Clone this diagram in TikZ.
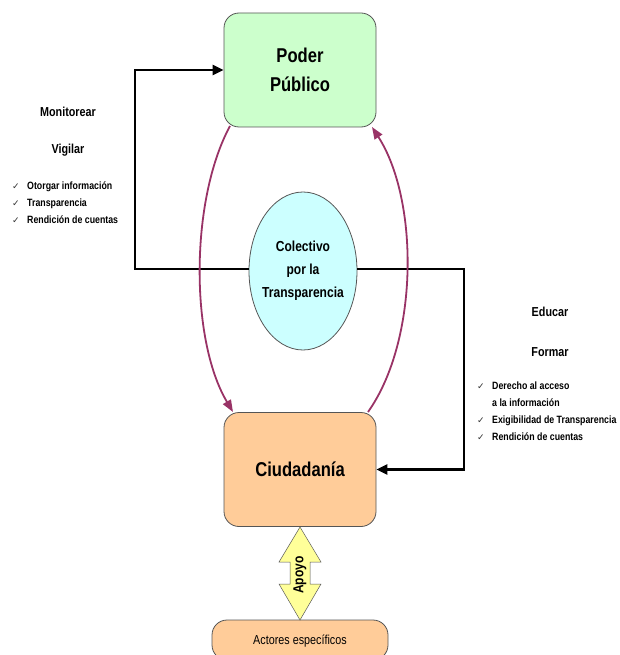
\documentclass[tikz,border=0pt]{standalone}
\usepackage{fontspec}
\setmainfont[FakeStretch=0.83]{Liberation Sans}
\newfontfamily\chk{DejaVu Sans}
\usetikzlibrary{arrows.meta,shapes.geometric}
\definecolor{pgreen}{HTML}{CCFFCC}
\definecolor{ppeach}{HTML}{FFCC99}
\definecolor{pcyan}{HTML}{CCFFFF}
\definecolor{pyellow}{HTML}{FFFF99}
\definecolor{pplum}{HTML}{993366}
\definecolor{pborder}{HTML}{555555}
\tikzset{
  bigbox/.style={draw=pborder, line width=0.8pt, rounded corners=15pt, minimum width=152pt, minimum height=114pt, align=center, font=\fontsize{20}{29}\selectfont\bfseries},
  blackconn/.style={draw=black, line width=2.4pt, -{Triangle[length=11pt,width=10pt]}},
  plumconn/.style={draw=pplum, line width=1.8pt, -{Triangle[length=12pt,width=9pt]}},
  heading/.style={font=\fontsize{13}{15}\selectfont\bfseries},
  chklist/.style={align=left, anchor=north west, inner sep=0pt, font=\fontsize{10.6}{16.8}\selectfont\bfseries},
}
\newcommand{\ck}{\makebox[15pt][l]{{\chk\fontsize{9}{10}\selectfont\color{black!80}✓}}}
\begin{document}
\begin{tikzpicture}[x=1pt,y=-1pt]
\useasboundingbox (0,0) rectangle (620,655);
% main boxes
\node[bigbox, fill=pgreen] (poder) at (300,70) {Poder\\Público};
\node[bigbox, fill=ppeach] (ciu) at (300,469.5) {Ciudadanía};
\node[draw=pborder, line width=0.8pt, fill=pcyan, ellipse, minimum width=108pt, minimum height=158pt, inner sep=0pt,
  label={[align=center, font=\fontsize{14.5}{23}\selectfont\bfseries]center:Colectivo\\por la\\Transparencia}] (col) at (303,271) {};
% actores
\node[draw=pborder, line width=0.8pt, fill=ppeach, rounded corners=15pt, minimum width=176pt, minimum height=40pt, font=\fontsize{13}{15}\selectfont, text depth=0pt] (act) at (300,640) {\raisebox{1.5pt}{Actores específicos}};
% black connectors
\coordinate (L) at (135,269);
\coordinate (R) at (464,269);
\draw[blackconn] (col.west |- L) -- (L) |- (poder.west);
\draw[blackconn] (col.east |- R) -- (R) |- (ciu.east);
% plum curves
\coordinate (pl) at (230,126);
\coordinate (cl) at (233,412);
\coordinate (cr) at (368,412);
\coordinate (pr) at (372,127);
\draw[plumconn] (pl) .. controls (190,200) and (190,340) .. (cl);
\draw[plumconn] (cr) .. controls (419,340) and (419,200) .. (pr);
% apoyo double arrow
\draw[draw=gray!70!black, line width=0.5pt, fill=pyellow] (300,527) -- (321,562) -- (310,562) -- (310,584) -- (321,584) -- (300,620) -- (279,584) -- (290,584) -- (290,562) -- (279,562) -- cycle;
\node[rotate=90, font=\fontsize{14.5}{16}\selectfont\bfseries, inner sep=0pt] (apoyo) at (300,575) {Apoyo};
% left texts
\node[heading] (mon) at (68,112) {Monitorear};
\node[heading] (vig) at (68,150) {Vigilar};
\node[chklist] (ll) at (12,181.5) {\ck Otorgar información\\\ck Transparencia\\\ck Rendición de cuentas};
% right texts
\node[heading] (edu) at (550,312) {Educar};
\node[heading] (for) at (550,352) {Formar};
\node[chklist] (rl) at (477,382) {\ck Derecho al acceso\\\hspace*{15pt}a la información\\\ck Exigibilidad de Transparencia\\\ck Rendición de cuentas};
\end{tikzpicture}
\end{document}
